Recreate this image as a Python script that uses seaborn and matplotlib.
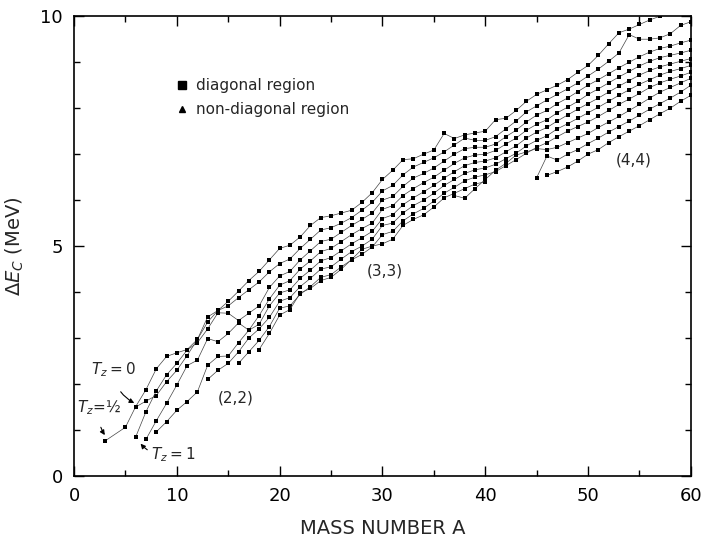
import matplotlib
matplotlib.use("Agg")
import matplotlib.pyplot as plt
from matplotlib.lines import Line2D
from matplotlib.ticker import MultipleLocator
import seaborn as sns
import pandas as pd

# mass number / Coulomb displacement energy (MeV) for each connected sequence
L1_A = [3, 5, 6, 7, 8, 9, 10, 11, 12, 13, 14, 15, 16, 17, 18, 19, 20, 21, 22, 23, 24, 25, 26, 27, 28, 29,
        30, 31, 32, 33, 34, 35, 36, 37, 38, 39, 40, 41, 42, 43, 44, 45, 46, 47, 48, 49, 50, 51, 52, 53,
        54, 55, 56, 57]
L1_E = [0.76, 1.06, 1.51, 1.88, 2.33, 2.60, 2.68, 2.75, 2.97, 3.46, 3.60, 3.80, 4.02, 4.25, 4.45, 4.70,
        4.95, 5.02, 5.20, 5.45, 5.62, 5.66, 5.72, 5.78, 5.95, 6.16, 6.45, 6.65, 6.88, 6.90, 7.00, 7.09,
        7.45, 7.34, 7.42, 7.46, 7.50, 7.75, 7.78, 7.95, 8.15, 8.30, 8.40, 8.50, 8.62, 8.78, 8.93, 9.15,
        9.40, 9.64, 9.72, 9.82, 9.92, 10.0]

L2_A = list(range(6, 61))
L2_E = [1.50, 1.63, 1.75, 2.05, 2.30, 2.62, 2.97, 3.35, 3.60, 3.70, 3.88, 4.05, 4.22, 4.44, 4.62, 4.72,
        4.95, 5.15, 5.35, 5.40, 5.50, 5.62, 5.78, 5.95, 6.20, 6.32, 6.55, 6.72, 6.82, 6.92, 7.05, 7.20,
        7.35, 7.30, 7.30, 7.38, 7.55, 7.72, 7.92, 8.05, 8.18, 8.30, 8.42, 8.55, 8.70, 8.85, 9.02, 9.20,
        9.60, 9.50, 9.50, 9.53, 9.62, 9.80, 9.88]

L3_A = list(range(6, 61))
L3_E = [0.85, 1.40, 1.85, 2.20, 2.45, 2.74, 2.90, 3.20, 3.55, 3.54, 3.38, 3.54, 3.70, 4.10, 4.35, 4.45,
        4.70, 4.90, 5.10, 5.15, 5.30, 5.45, 5.58, 5.72, 6.00, 6.08, 6.30, 6.48, 6.58, 6.70, 6.85, 7.00,
        7.12, 7.15, 7.15, 7.22, 7.38, 7.52, 7.70, 7.85, 7.95, 8.10, 8.22, 8.36, 8.50, 8.62, 8.75, 8.88,
        9.00, 9.12, 9.22, 9.30, 9.35, 9.42, 9.48]

L4_A = list(range(7, 61))
L4_E = [0.80, 1.20, 1.58, 1.98, 2.40, 2.52, 2.99, 2.92, 3.10, 3.33, 3.17, 3.49, 3.85, 4.15, 4.25, 4.50,
        4.68, 4.88, 4.95, 5.10, 5.25, 5.38, 5.50, 5.80, 5.88, 6.10, 6.25, 6.38, 6.50, 6.65, 6.80, 6.92,
        6.98, 7.00, 7.08, 7.22, 7.35, 7.52, 7.65, 7.75, 7.90, 8.02, 8.15, 8.30, 8.42, 8.55, 8.68, 8.80,
        8.92, 9.02, 9.10, 9.15, 9.20, 9.26]

L5_A = list(range(8, 61))
L5_E = [0.96, 1.18, 1.43, 1.62, 1.83, 2.41, 2.60, 2.61, 2.90, 3.17, 3.30, 3.70, 3.98, 4.05, 4.30, 4.48,
        4.68, 4.75, 4.90, 5.05, 5.18, 5.32, 5.60, 5.68, 5.90, 6.05, 6.18, 6.32, 6.48, 6.62, 6.75, 6.82,
        6.85, 6.92, 7.05, 7.18, 7.35, 7.48, 7.58, 7.72, 7.85, 7.98, 8.10, 8.22, 8.35, 8.48, 8.60, 8.72,
        8.82, 8.90, 8.96, 9.02, 9.08]

L6_A = list(range(13, 61))
L6_E = [2.10, 2.30, 2.45, 2.70, 3.00, 3.20, 3.45, 3.80, 3.88, 4.12, 4.30, 4.50, 4.55, 4.72, 4.88, 5.00,
        5.15, 5.45, 5.50, 5.72, 5.88, 6.00, 6.15, 6.32, 6.45, 6.58, 6.66, 6.70, 6.78, 6.90, 7.02, 7.18,
        7.30, 7.40, 7.55, 7.66, 7.78, 7.90, 8.02, 8.15, 8.28, 8.40, 8.52, 8.62, 8.72, 8.80, 8.86, 8.93]

L7_A = list(range(16, 61))
L7_E = [2.45, 2.70, 2.95, 3.25, 3.65, 3.70, 3.95, 4.12, 4.32, 4.38, 4.55, 4.70, 4.82, 4.98, 5.25, 5.32,
        5.55, 5.70, 5.82, 5.98, 6.15, 6.28, 6.42, 6.50, 6.55, 6.62, 6.75, 6.88, 7.02, 7.15, 7.25, 7.38,
        7.50, 7.60, 7.70, 7.82, 7.95, 8.08, 8.20, 8.32, 8.45, 8.55, 8.63, 8.70, 8.78]

L8_A = list(range(18, 41))
L8_E = [2.75, 3.10, 3.50, 3.62, 3.98, 4.08, 4.25, 4.32, 4.50, 4.71, 4.93, 5.00, 5.05, 5.15, 5.45, 5.58,
        5.68, 5.85, 6.05, 6.15, 6.25, 6.35, 6.40]

L9_A = list(range(37, 61))
L9_E = [6.10, 6.04, 6.25, 6.45, 6.65, 6.80, 6.98, 7.05, 7.12, 7.10, 7.15, 7.25, 7.35, 7.45, 7.58, 7.70,
        7.82, 7.95, 8.08, 8.22, 8.35, 8.45, 8.55, 8.65]

L10_A = list(range(45, 61))
L10_E = [6.49, 6.96, 6.87, 7.00, 7.10, 7.23, 7.35, 7.48, 7.60, 7.72, 7.85, 7.98, 8.10, 8.22, 8.35, 8.50]

L11_A = list(range(46, 61))
L11_E = [6.54, 6.62, 6.72, 6.85, 7.00, 7.10, 7.25, 7.38, 7.50, 7.62, 7.75, 7.88, 8.00, 8.15, 8.28]

series = {
    "L1": (L1_A, L1_E), "L2": (L2_A, L2_E), "L3": (L3_A, L3_E), "L4": (L4_A, L4_E),
    "L5": (L5_A, L5_E), "L6": (L6_A, L6_E), "L7": (L7_A, L7_E), "L8": (L8_A, L8_E),
    "L9": (L9_A, L9_E), "L10": (L10_A, L10_E), "L11": (L11_A, L11_E),
}
rows = []
for name, (aa, ee) in series.items():
    for a, e in zip(aa, ee):
        rows.append({"line": name, "A": a, "dE": e})
df = pd.DataFrame(rows)

sns.set_theme(style="ticks")
plt.rcParams["font.family"] = ["DejaVu Sans"]
plt.rcParams["mathtext.fontset"] = "dejavusans"

fig = plt.figure(figsize=(7.05, 5.48), dpi=100)
ax = fig.add_axes([0.105, 0.1314, 0.875, 0.839])

sns.lineplot(data=df, x="A", y="dE", units="line", estimator=None, sort=False,
             color="#444444", lw=0.5, marker="s", markersize=2.3, markeredgewidth=0,
             markerfacecolor="black", legend=False, ax=ax)

ax.set_xlim(0, 60)
ax.set_ylim(0, 10)
ax.xaxis.set_major_locator(MultipleLocator(10))
ax.xaxis.set_minor_locator(MultipleLocator(5))
ax.yaxis.set_major_locator(MultipleLocator(5))
ax.yaxis.set_minor_locator(MultipleLocator(1))
ax.tick_params(which="both", direction="in", top=True, right=True, colors="black",
               labelsize=13, width=1.0)
ax.tick_params(which="major", length=7, pad=8)
ax.tick_params(which="minor", length=4)
for s in ax.spines.values():
    s.set_visible(True)
    s.set_color("black")
    s.set_linewidth(1.2)

ax.set_xlabel("MASS NUMBER A", fontsize=14, labelpad=10)
ax.set_ylabel(r"$\Delta E_C$ (MeV)", fontsize=14, labelpad=10)

handles = [
    Line2D([], [], ls="none", marker="s", color="black", markersize=6, label="diagonal region"),
    Line2D([], [], ls="none", marker="^", color="black", markersize=4, label="non-diagonal region"),
]
ax.legend(handles=handles, loc="upper left", bbox_to_anchor=(0.14, 0.895), frameon=False,
          fontsize=11, handletextpad=0.4, labelspacing=0.6, handlelength=1.0)

ax.text(30.2, 4.45, "(3,3)", fontsize=11, ha="center", va="center")
ax.text(15.7, 1.69, "(2,2)", fontsize=11, ha="center", va="center")
ax.text(54.4, 6.87, "(4,4)", fontsize=11, ha="center", va="center")

arrow = dict(arrowstyle="-|>", color="black", lw=0.8, mutation_scale=7)
ax.annotate(r"$T_z = 0$", xy=(6.1, 1.56), xytext=(3.8, 2.32), fontsize=11, ha="center", va="center",
            arrowprops=dict(connectionstyle="arc3,rad=0.3", shrinkA=8, shrinkB=2, **arrow))
ax.annotate(r"$T_z$=½", xy=(3.15, 0.84), xytext=(2.4, 1.48), fontsize=11, ha="center", va="center",
            arrowprops=dict(connectionstyle="arc3,rad=0.2", shrinkA=5, shrinkB=2, **arrow))
ax.annotate(r"$T_z = 1$", xy=(6.3, 0.75), xytext=(9.6, 0.46), fontsize=11, ha="center", va="center",
            arrowprops=dict(connectionstyle="arc3,rad=-0.3", shrinkA=14, shrinkB=2, **arrow))

fig.savefig("out.png", dpi=100)
